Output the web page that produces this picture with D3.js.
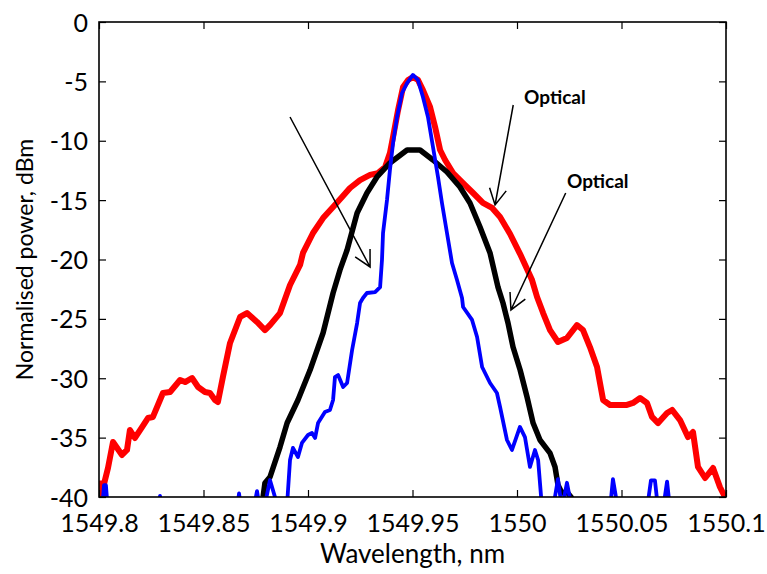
<!DOCTYPE html>
<html><head><meta charset="utf-8">
<script src="https://cdn.jsdelivr.net/npm/d3@7"></script>
<style>
html,body{margin:0;padding:0;background:#fff;}
svg{display:block;}
text{font-family:Lato,"Open Sans",sans-serif;fill:#000;}
</style></head>
<body>
<svg id="chart" width="767" height="574"></svg>
<script>
// ---------- data ----------
const xTicks = [1549.8, 1549.85, 1549.9, 1549.95, 1550, 1550.05, 1550.1];
const xTickLabels = ["1549.8","1549.85","1549.9","1549.95","1550","1550.05","1550.1"];
const yTicks = [0,-5,-10,-15,-20,-25,-30,-35,-40];
const yTickLabels = ["0","-5","-10","-15","-20","-25","-30","-35","-40"];

const redX = [1549.8,1549.8008,1549.8024,1549.8043,1549.8067,1549.8110,1549.8134,1549.8148,1549.8172,1549.8206,1549.8234,1549.8258,1549.8306,1549.8340,1549.8388,1549.8412,1549.8445,1549.8474,1549.8507,1549.8531,1549.8555,1549.8569,1549.8593,1549.8627,1549.8675,1549.8708,1549.8756,1549.8794,1549.8818,1549.8866,1549.8914,1549.8962,1549.8976,1549.9024,1549.9072,1549.9120,1549.9163,1549.9201,1549.9249,1549.9297,1549.9335,1549.9369,1549.9392,1549.9407,1549.9431,1549.9455,1549.9479,1549.9502,1549.9526,1549.9550,1549.9584,1549.9608,1549.9632,1549.9656,1549.9694,1549.9742,1549.9790,1549.9837,1549.9881,1549.9919,1549.9967,1550.0015,1550.0072,1550.0096,1550.0125,1550.0158,1550.0196,1550.0239,1550.0287,1550.0316,1550.0349,1550.0383,1550.0412,1550.0445,1550.0493,1550.0526,1550.0555,1550.0589,1550.0622,1550.0646,1550.0675,1550.0718,1550.0742,1550.0780,1550.0818,1550.0842,1550.0866,1550.0900,1550.0938,1550.0971,1550.0995];
const redY = [-38.6,-40.3,-38.9,-37.56,-35.37,-36.46,-36.04,-34.36,-35.03,-34.11,-33.35,-33.26,-31.24,-31.16,-30.15,-30.32,-29.98,-30.74,-31.16,-31.24,-31.83,-32.0,-29.89,-27.03,-24.84,-24.51,-25.26,-25.94,-25.52,-24.51,-22.15,-20.46,-19.45,-17.77,-16.51,-15.58,-14.74,-13.98,-13.31,-12.88,-12.72,-12.21,-11.03,-9.68,-7.41,-5.47,-4.88,-4.63,-4.88,-5.73,-7.16,-8.84,-10.78,-11.62,-12.72,-13.56,-14.40,-15.24,-15.66,-16.42,-17.85,-19.54,-21.73,-23.16,-24.51,-25.94,-26.95,-26.61,-25.52,-25.94,-27.37,-29.05,-31.83,-32.25,-32.25,-32.25,-32.08,-31.66,-32.08,-33.26,-33.77,-32.93,-32.67,-33.52,-34.95,-34.53,-37.47,-38.40,-37.56,-39.16,-40.0];

const blackX = [1549.8785,1549.8794,1549.8818,1549.8866,1549.8900,1549.8952,1549.9010,1549.9072,1549.9120,1549.9153,1549.9187,1549.9235,1549.9282,1549.9330,1549.9392,1549.9474,1549.9536,1549.9598,1549.9665,1549.9727,1549.9775,1549.9823,1549.9871,1549.9909,1549.9933,1549.9957,1549.9981,1550.0015,1550.0048,1550.0077,1550.0110,1550.0158,1550.0182,1550.0196,1550.0215,1550.0239,1550.0263];
const blackY = [-40.0,-38.82,-38.32,-35.79,-33.77,-31.83,-29.31,-26.19,-22.82,-20.88,-19.20,-16.08,-14.40,-13.05,-11.87,-10.78,-10.78,-11.62,-12.63,-13.89,-15.24,-17.26,-19.45,-22.32,-23.66,-25.35,-27.37,-29.31,-31.58,-33.77,-35.20,-36.30,-37.47,-38.98,-39.66,-39.58,-40.1];

const blueX = [1549.8,1549.8015,1549.8024,1549.8033,1549.8042,1549.8287,1549.8292,1549.8297,1549.8660,1549.8670,1549.8680,1549.8740,1549.8756,1549.8770,1549.8790,1549.8818,1549.8852,1549.8900,1549.8914,1549.8928,1549.8952,1549.8971,1549.9000,1549.9019,1549.9034,1549.9048,1549.9081,1549.9105,1549.9120,1549.9129,1549.9144,1549.9168,1549.9187,1549.9211,1549.9235,1549.9249,1549.9263,1549.9282,1549.9321,1549.9345,1549.9354,1549.9359,1549.9378,1549.9392,1549.9407,1549.9426,1549.9450,1549.9474,1549.9502,1549.9526,1549.9550,1549.9574,1549.9598,1549.9622,1549.9641,1549.9665,1549.9689,1549.9713,1549.9737,1549.9742,1549.9785,1549.9809,1549.9833,1549.9871,1549.9904,1549.9919,1549.9952,1549.9976,1550.0014,1550.0038,1550.0062,1550.0086,1550.0101,1550.0120,1550.0172,1550.0196,1550.0215,1550.0239,1550.0263,1550.0445,1550.0459,1550.0483,1550.0622,1550.0641,1550.0660,1550.0675,1550.0699,1550.0718,1550.0732,1550.1];
const blueY = [-41,-41,-39.0,-39.0,-41,-41,-39.9,-41,-41,-39.7,-41,-41,-39.5,-41,-41,-38.57,-40.6,-40.6,-36.88,-35.87,-36.63,-35.45,-34.78,-34.61,-35.03,-33.77,-32.84,-32.67,-31.83,-29.9,-29.73,-30.74,-30.4,-27.62,-25.35,-23.66,-23.24,-22.82,-22.74,-22.32,-20.04,-17.77,-14.99,-12.46,-10.19,-8.0,-5.98,-5.14,-4.46,-4.88,-6.32,-8.0,-10.53,-13.05,-15.24,-17.77,-20.29,-21.73,-23.24,-24.0,-25.09,-26.53,-29.05,-30.4,-31.24,-32.42,-35.2,-36.04,-34.1,-34.95,-37.47,-36.04,-36.88,-41,-41,-38.5,-41,-38.8,-41,-41,-38.5,-41,-41,-38.6,-38.6,-41,-41,-38.7,-41,-41];

const annotText = ["Optical","Optical"];
const annotX = [1550.0034, 1550.0239];
const annotY = [-6.9, -13.98];
const arrowX1 = [1549.9982, 1550.0233, 1549.8914];
const arrowY1 = [-6.99, -14.40, -8.0];
const arrowX2 = [1549.9895, 1549.9971, 1549.9297];
const arrowY2 = [-15.41, -24.25, -20.63];

// ---------- chart ----------
const W = 767, H = 574;
const m = {left:99, right:41, top:22, bottom:77};
const svg = d3.select("#chart");
const x = d3.scaleLinear().domain([1549.8, 1550.1]).range([m.left, W - m.right]);
const y = d3.scaleLinear().domain([-40, 0]).range([H - m.bottom, m.top]);

svg.append("defs").append("clipPath").attr("id","clip")
  .append("rect").attr("x", x(1549.8)).attr("y", y(0))
  .attr("width", x(1550.1)-x(1549.8)).attr("height", y(-40)-y(0));

const line = d3.line().x(d => x(d[0])).y(d => y(d[1]));
const g = svg.append("g").attr("clip-path","url(#clip)");
const series = [
  {xs: redX, ys: redY, color:"#ff0000", w:6},
  {xs: blackX, ys: blackY, color:"#000000", w:5.5},
  {xs: blueX, ys: blueY, color:"#0000ff", w:3.8}
];
series.forEach(s => {
  g.append("path").datum(s.xs.map((v,i)=>[v, s.ys[i]]))
    .attr("d", line).attr("fill","none").attr("stroke", s.color)
    .attr("stroke-width", s.w).attr("stroke-linejoin","round").attr("stroke-linecap","butt");
});

// axes
const tick = 7;
const xb = svg.append("g").attr("transform",`translate(0,${y(-40)})`)
  .call(d3.axisBottom(x).tickValues(xTicks).tickSizeInner(-tick).tickSizeOuter(0)
    .tickFormat((d,i)=>xTickLabels[i]));
xb.selectAll("text").attr("y", 35).attr("dy", null).style("font-size","25px");
const xt = svg.append("g").attr("transform",`translate(0,${y(0)})`)
  .call(d3.axisTop(x).tickValues(xTicks).tickSizeInner(-tick).tickSizeOuter(0).tickFormat(""));
const yl = svg.append("g").attr("transform",`translate(${x(1549.8)},0)`)
  .call(d3.axisLeft(y).tickValues(yTicks).tickSizeInner(-tick).tickSizeOuter(0)
    .tickFormat((d,i)=>yTickLabels[i]));
yl.selectAll("text").attr("x", -11).attr("dy","0.36em").style("font-size","25px");
const yr = svg.append("g").attr("transform",`translate(${x(1550.1)},0)`)
  .call(d3.axisRight(y).tickValues(yTicks).tickSizeInner(-tick).tickSizeOuter(0).tickFormat(""));
[xb,xt,yl,yr].forEach(a => {
  a.select(".domain").remove();
  a.selectAll("line").attr("stroke","#000").attr("stroke-width",1.2);
  a.selectAll("text").attr("fill","#000").style("font-family","Lato, sans-serif");
});
svg.append("rect").attr("x", x(1549.8)).attr("y", y(0))
  .attr("width", x(1550.1)-x(1549.8)).attr("height", y(-40)-y(0))
  .attr("fill","none").attr("stroke","#000").attr("stroke-width",1.6);

// axis titles
svg.append("text").attr("x", (x(1549.8)+x(1550.1))/2).attr("y", 563)
  .attr("text-anchor","middle").style("font-size","26px").text("Wavelength, nm");
svg.append("text").attr("transform",`translate(33,${(y(0)+y(-40))/2}) rotate(-90)`)
  .attr("text-anchor","middle").style("font-size","23px").text("Normalised power, dBm");

// annotations
annotText.forEach((t,i) => {
  svg.append("text").attr("x", x(annotX[i])).attr("y", y(annotY[i]))
    .style("font-size","19px").style("font-weight","bold").text(t);
});
arrowX1.forEach((_,i) => {
  const x1 = x(arrowX1[i]), y1 = y(arrowY1[i]), x2 = x(arrowX2[i]), y2 = y(arrowY2[i]);
  const ang = Math.atan2(y1-y2, x1-x2), L = 18, a = 28*Math.PI/180;
  const p1 = [x2 + L*Math.cos(ang+a), y2 + L*Math.sin(ang+a)];
  const p2 = [x2 + L*Math.cos(ang-a), y2 + L*Math.sin(ang-a)];
  svg.append("path").attr("d",`M${x1},${y1}L${x2},${y2}M${p1[0]},${p1[1]}L${x2},${y2}L${p2[0]},${p2[1]}`)
    .attr("fill","none").attr("stroke","#000").attr("stroke-width",1.5);
});
</script>
</body></html>
